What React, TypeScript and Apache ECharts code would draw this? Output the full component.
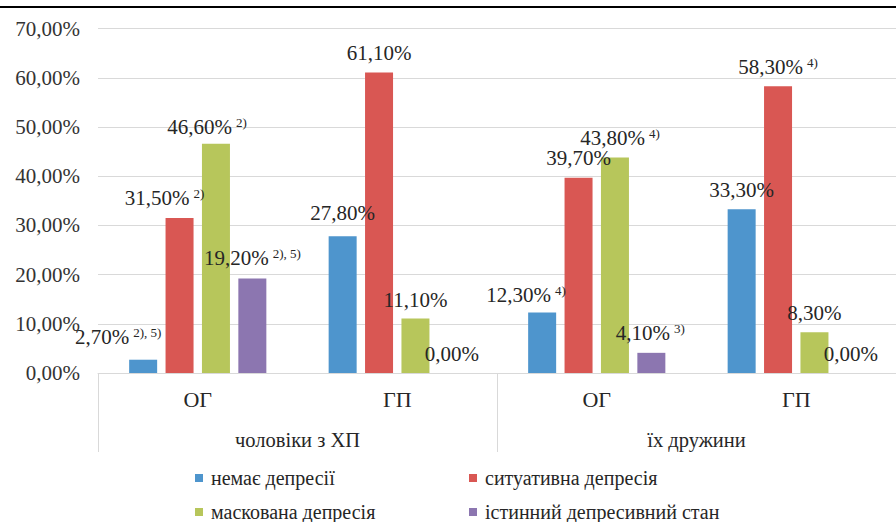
import React, { useEffect, useRef } from "react";
import * as echarts from "echarts";

const categories = ["ОГ", "ГП", "ОГ", "ГП"];
const groups = ["чоловіки з ХП", "їх дружини"];
const seriesNames = [
  "немає депресії",
  "ситуативна депресія",
  "маскована депресія",
  "істинний депресивний стан",
];
const noDepression = [2.7, 27.8, 12.3, 33.3];
const situational = [31.5, 61.1, 39.7, 58.3];
const masked = [46.6, 11.1, 43.8, 8.3];
const trueDepressive = [19.2, 0, 4.1, 0];

const noDepressionNotes = ["2), 5)", "", "4)", ""];
const situationalNotes = ["2)", "", "", "4)"];
const maskedNotes = ["2)", "", "4)", ""];
const trueDepressiveNotes = ["2), 5)", "", "3)", ""];

const yTicks = [0, 10, 20, 30, 40, 50, 60, 70];

// layout-only: label nudges per series / category
const labelOffsets = [
  [[-25, -3], [0, -4], [-16, 2], [0, 0]],
  [[-15, -1], [0, 0], [0, 0], [0, 0]],
  [[-9, 3], [0, 1], [5, 0], [0, 0]],
  [[0, -1], [0, 0], [-1, 0], [0, 0]],
];

const colors = ["#4E95CD", "#D95753", "#B7C65B", "#8C76B0"];
const FONT = "Liberation Serif";

const fmt = (v: number) => v.toFixed(2).replace(".", ",") + "%";

export default function App() {
  const ref = useRef<HTMLDivElement>(null);
  useEffect(() => {
    if (!ref.current) return;
    const chart = echarts.init(ref.current, undefined, { renderer: "svg" });
    const values = [noDepression, situational, masked, trueDepressive];
    const notes = [noDepressionNotes, situationalNotes, maskedNotes, trueDepressiveNotes];
    const series = values.map((vals, si) => ({
      name: seriesNames[si],
      type: "bar",
      xAxisIndex: 0,
      barWidth: 28,
      barGap: "30%",
      itemStyle: { color: colors[si] },
      data: vals.map((v, ci) => ({
        value: v,
        label: { offset: labelOffsets[si][ci] },
      })),
      label: {
        show: true,
        position: "top",
        distance: 8.5,
        fontFamily: FONT,
        formatter: (p: any) => {
          const n = notes[si][p.dataIndex];
          const t = `{v|${fmt(p.value)}}`;
          return n ? `${t}{s|${n}}` : t;
        },
        rich: {
          v: { fontSize: 21, lineHeight: 22, color: "#262626", fontFamily: FONT },
          s: {
            fontSize: 13,
            lineHeight: 13,
            padding: [0, 0, 9, 4],
            color: "#262626",
            fontFamily: FONT,
          },
        },
      },
    }));
    const legendBase = {
      orient: "vertical",
      top: 463,
      height: 120,
      itemWidth: 8,
      itemHeight: 8,
      itemGap: 14,
      icon: "rect",
      textStyle: {
        fontSize: 20,
        lineHeight: 20,
        fontFamily: FONT,
        color: "#262626",
        padding: [0, 0, 0, 3],
      },
    };
    chart.setOption({
      animation: false,
      textStyle: { fontFamily: FONT },
      graphic: [
        {
          type: "rect",
          shape: { x: 0, y: 6, width: 896, height: 2 },
          style: { fill: "#000" },
        },
      ],
      grid: { left: 98, top: 28.6, width: 804, height: 344.4 },
      legend: [
        { ...legendBase, left: 190, data: [seriesNames[0], seriesNames[2]] },
        { ...legendBase, left: 464, data: [seriesNames[1], seriesNames[3]] },
      ],
      xAxis: [
        {
          type: "category",
          data: categories,
          axisLine: { lineStyle: { color: "#d9d9d9", width: 1 } },
          axisTick: { show: false },
          axisLabel: { fontSize: 22, fontFamily: FONT, color: "#262626", margin: 15 },
        },
        {
          type: "category",
          data: groups,
          position: "bottom",
          axisLine: { show: false },
          axisTick: { show: true, length: 79, lineStyle: { color: "#d9d9d9" } },
          axisLabel: { fontSize: 20.5, fontFamily: FONT, color: "#262626", margin: 56 },
        },
      ],
      yAxis: {
        type: "value",
        min: yTicks[0],
        max: yTicks[yTicks.length - 1],
        interval: 10,
        axisLine: { show: false },
        axisTick: { show: false },
        splitLine: { lineStyle: { color: "#d9d9d9" } },
        axisLabel: {
          fontSize: 21,
          fontFamily: FONT,
          color: "#333",
          margin: 18,
          formatter: (v: number) => fmt(v),
        },
      },
      series,
    });
    return () => chart.dispose();
  }, []);
  return <div ref={ref} style={{ width: 896, height: 522, position: "absolute", left: 0, top: 0 }} />;
}
